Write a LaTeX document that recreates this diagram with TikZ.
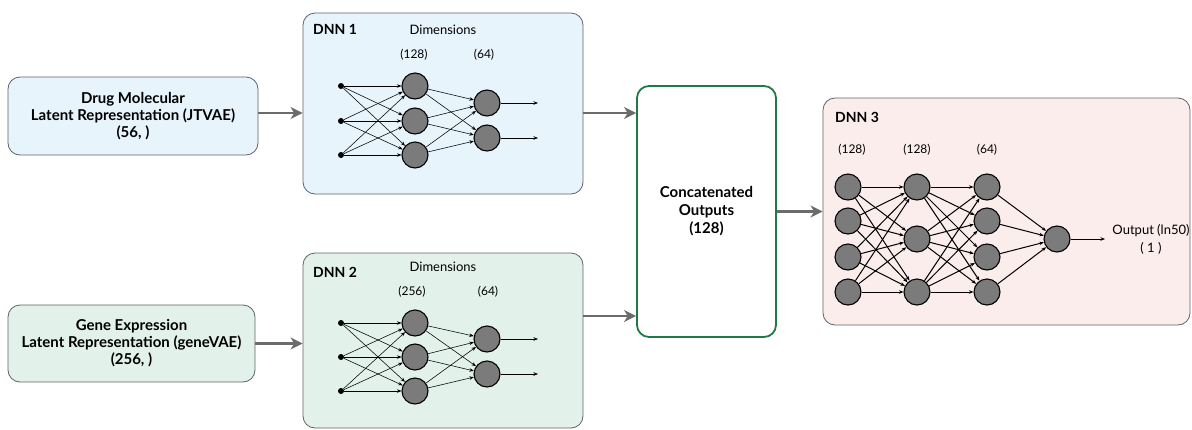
\documentclass[tikz,border=0pt]{standalone}
\usepackage{fontspec}
\setmainfont{Lato}
\usetikzlibrary{arrows.meta}

\definecolor{framegray}{HTML}{5F6368}
\definecolor{flowgray}{HTML}{6B6B6B}
\definecolor{bluefill}{HTML}{E8F4FB}
\definecolor{greenfill}{HTML}{E3F1EB}
\definecolor{pinkfill}{HTML}{FCEDED}
\definecolor{concatgreen}{HTML}{1F7A45}
\definecolor{neurongray}{HTML}{7B7B7B}

\tikzset{
  panel/.style={draw=framegray, line width=0.8pt, rounded corners=12pt},
  neuron/.style={circle, draw=black, line width=1.1pt, fill=neurongray, minimum size=26pt, inner sep=0pt},
  inputdot/.style={circle, fill=black, minimum size=6pt, inner sep=0pt},
  link/.style={-{Stealth[length=4.5pt,width=3.5pt]}, line width=0.55pt},
  denselink/.style={-{Stealth[length=4.5pt,width=3.5pt]}, line width=1pt},
  flow/.style={-{Stealth[length=12pt,width=12pt,inset=3.5pt]}, draw=flowgray, line width=2.2pt},
  title/.style={font=\bfseries\fontsize{14}{16}\selectfont, anchor=west, inner sep=0pt},
  dimlabel/.style={font=\fontsize{12}{13}\selectfont, inner sep=0pt},
  headlabel/.style={font=\fontsize{13}{15}\selectfont, inner sep=0pt},
  boxtext/.style={font=\bfseries\fontsize{15}{17}\selectfont, align=center},
}

\begin{document}
\begin{tikzpicture}[x=1pt,y=-1pt]
\useasboundingbox (0,0) rectangle (1192,429);

% ---------- input boxes ----------
\node[panel, fill=bluefill, minimum width=250pt, minimum height=78pt, boxtext] (drug) at (133,116)
  {Drug Molecular\\Latent Representation (JTVAE)\\(56, )};
\node[panel, fill=greenfill, minimum width=247pt, minimum height=77pt, boxtext] (gene) at (131.5,343.5)
  {Gene Expression\\Latent Representation (geneVAE)\\(256, )};

% ---------- network panels ----------
\node[panel, fill=bluefill, minimum width=280pt, minimum height=181pt] (dnn1) at (443,103.5) {};
\node[panel, fill=greenfill, minimum width=280pt, minimum height=175pt] (dnn2) at (443,340.5) {};
\node[draw=concatgreen, line width=1.8pt, rounded corners=12pt, fill=white,
      minimum width=139pt, minimum height=251pt, boxtext, font=\bfseries\fontsize{15}{18}\selectfont] (concat) at (706.5,211.5)
  {Concatenated\\Outputs\\(128)};
\node[panel, fill=pinkfill, minimum width=367pt, minimum height=227pt] (dnn3) at (1006.5,211.5) {};

% ---------- main flow ----------
\coordinate (upin) at (0,113);
\coordinate (lowin) at (0,316);
\draw[flow] (drug.east |- upin) -- (dnn1.west |- upin);
\draw[flow] (gene.east) -- (gene.east -| dnn2.west);
\draw[flow] (dnn1.east |- upin) -- (concat.west |- upin);
\draw[flow] (dnn2.east |- lowin) -- (concat.west |- lowin);
\draw[flow] (concat.east) -- (concat.east -| dnn3.west);

% ---------- DNN 1 ----------
\node[title] (t1) at (313,29) {DNN 1};
\node[headlabel] (d1) at (443,30) {Dimensions};
\node[dimlabel] (d1a) at (414,55) {(128)};
\node[dimlabel] (d1b) at (484,55) {(64)};
\foreach \i/\y in {1/86,2/121,3/155} {
  \node[inputdot] (pa\i) at (341,\y) {};
  \node[neuron] (pa h\i) at (415,\y) {};
}
\node[neuron] (pa o1) at (487,103) {};
\node[neuron] (pa o2) at (487,138) {};
\foreach \i in {1,2,3} \foreach \j in {1,2,3}
  \draw[link] (pa\i) -- (pa h\j);
\foreach \i in {1,2,3} \foreach \j in {1,2}
  \draw[link] (pa h\i) -- (pa o\j);
\coordinate (pa e1) at (538,103);
\coordinate (pa e2) at (538,138);
\draw[link] (pa o1) -- (pa e1);
\draw[link] (pa o2) -- (pa e2);

% ---------- DNN 2 ----------
\node[title] (t2) at (313,272) {DNN 2};
\node[headlabel] (d2) at (443,267) {Dimensions};
\node[dimlabel] (d2a) at (412,292) {(256)};
\node[dimlabel] (d2b) at (488,292) {(64)};
\foreach \i/\y in {1/323,2/357,3/391} {
  \node[inputdot] (pb\i) at (341,\y) {};
  \node[neuron] (pb h\i) at (415,\y) {};
}
\node[neuron] (pb o1) at (487,339) {};
\node[neuron] (pb o2) at (487,374) {};
\foreach \i in {1,2,3} \foreach \j in {1,2,3}
  \draw[link] (pb\i) -- (pb h\j);
\foreach \i in {1,2,3} \foreach \j in {1,2}
  \draw[link] (pb h\i) -- (pb o\j);
\coordinate (pb e1) at (538,339);
\coordinate (pb e2) at (538,374);
\draw[link] (pb o1) -- (pb e1);
\draw[link] (pb o2) -- (pb e2);

% ---------- DNN 3 ----------
\node[title] (t3) at (835,117) {DNN 3};
\node[dimlabel] (d3a) at (852,150) {(128)};
\node[dimlabel] (d3b) at (917,150) {(128)};
\node[dimlabel] (d3c) at (987,150) {(64)};
\foreach \i/\y in {1/187,2/221,3/257,4/292} {
  \node[neuron] (pc a\i) at (848,\y) {};
  \node[neuron] (pc c\i) at (987,\y) {};
}
\node[neuron] (pc b1) at (917,187) {};
\node[neuron] (pc b2) at (917,239) {};
\node[neuron] (pc b3) at (917,292) {};
\node[neuron] (pc out) at (1057,239) {};
\foreach \i in {1,2,3,4} \foreach \j in {1,2,3}
  \draw[denselink] (pc a\i) -- (pc b\j);
\foreach \i in {1,2,3} \foreach \j in {1,2,3,4}
  \draw[denselink] (pc b\i) -- (pc c\j);
\foreach \i in {1,2,3,4}
  \draw[denselink] (pc c\i) -- (pc out);
\coordinate (pc end) at (1105,239);
\draw[link] (pc out) -- (pc end);
\node[dimlabel, align=center, font=\fontsize{13}{18}\selectfont] (outlbl) at (1151,239) {Output (ln50)\\( 1 )};

\end{tikzpicture}
\end{document}
